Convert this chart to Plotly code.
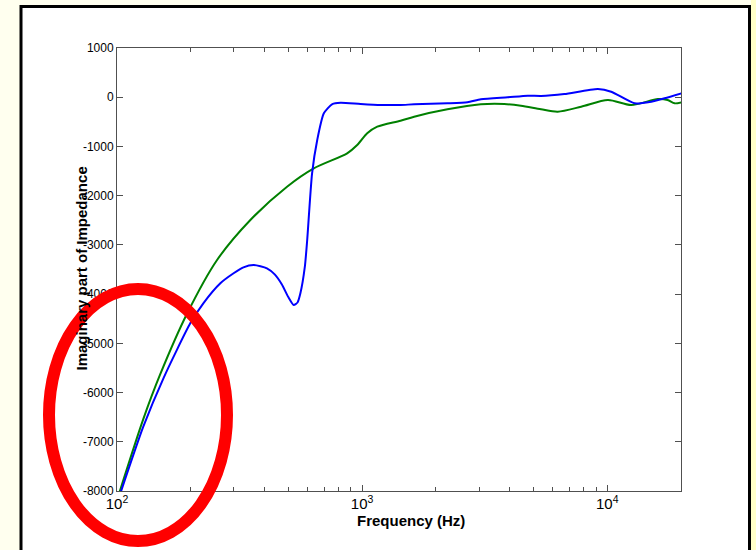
import numpy as np
import plotly.graph_objects as go

# ---- data ----
blue_freq = [103, 128, 155, 199, 225, 264, 299, 328, 361, 409, 440, 470, 500, 526, 545, 560, 584,
             597, 625, 656, 698, 756, 817, 986, 1193, 1435, 1630, 2229, 2690, 3052, 3926, 4742,
             5370, 6685, 9160, 10380, 12930, 15130, 17150, 20090]
blue_imag = [-8060, -6694, -5700, -4593, -4187, -3780, -3577, -3456, -3409, -3476, -3600, -3800,
             -4060, -4221, -4170, -3983, -3443, -2900, -1546, -869, -327, -138, -111, -138, -158,
             -158, -144, -124, -103, -42, -2, 31, 25, 65, 167, 112, -124, -90, -22, 80]

green_freq = [102, 128, 150, 193, 256, 350, 494, 635, 869, 955, 1049, 1153, 1435, 1630, 2229,
              3052, 3800, 4447, 5370, 6280, 7830, 10070, 12530, 16100, 17630, 18840, 20090]
green_imag = [-8050, -6540, -5633, -4400, -3307, -2494, -1817, -1445, -1139, -971, -733,
              -599, -477, -395, -246, -144, -138, -172, -246, -294, -192, -56, -158, -36, -56,
              -124, -103]

y_ticks = [-8000, -7000, -6000, -5000, -4000, -3000, -2000, -1000, 0, 1000]
y_ticklabels = ["-8000", "-7000", "-6000", "-5000", "-4000", "-3000", "-2000", "-1000", "0", "1000"]

x_title = "Frequency (Hz)"
y_title = "Imaginary part of Impedance"

# ---- layout geometry ----
W, H = 756, 550
L, R, T, B = 117, 75, 48, 59
PW, PH = W - L - R, H - T - B


def px(x):
    return (x - L) / PW


def py(y):
    return (H - B - y) / PH


FONT = "Liberation Sans, Arial, Helvetica, sans-serif"
AX = "#505050"

fig = go.Figure()
fig.add_trace(go.Scatter(x=green_freq, y=green_imag, mode="lines",
                         line=dict(color="#008000", width=2, shape="spline", smoothing=0.8),
                         showlegend=False, hoverinfo="skip"))
fig.add_trace(go.Scatter(x=blue_freq, y=blue_imag, mode="lines",
                         line=dict(color="#0000FF", width=2, shape="spline", smoothing=0.6),
                         showlegend=False, hoverinfo="skip"))

fig.update_layout(
    width=W, height=H,
    margin=dict(l=L, r=R, t=T, b=B, pad=0),
    paper_bgcolor="#FFFFEF",
    plot_bgcolor="white",
    font=dict(family=FONT, size=12, color="black"),
    showlegend=False,
    xaxis=dict(type="log", range=[2, np.log10(20000)], dtick=1, exponentformat="power",
               showgrid=False, zeroline=False, showline=True, linecolor=AX, linewidth=1,
               mirror="ticks", ticks="inside", ticklen=6, tickcolor=AX,
               minor=dict(ticks="inside", ticklen=4, tickcolor=AX, showgrid=False, dtick="D1"),
               tickfont=dict(family=FONT, size=12, color="black")),
    yaxis=dict(range=[-8000, 1000], tickvals=y_ticks, ticktext=y_ticklabels,
               showgrid=False, zeroline=False, showline=True, linecolor=AX, linewidth=1,
               mirror="ticks", ticks="inside", ticklen=6, tickcolor=AX,
               tickfont=dict(family=FONT, size=12, color="black")),
    shapes=[
        dict(type="rect", xref="paper", yref="paper", x0=px(21), x1=px(749.5), y0=py(570), y1=py(6.5),
             line=dict(color="black", width=3), fillcolor="white", layer="below"),
        dict(type="rect", xref="paper", yref="paper", x0=px(751), x1=px(760), y0=py(560), y1=py(-5),
             line=dict(width=0), fillcolor="#FFFFC8", layer="below"),
        dict(type="circle", xref="paper", yref="paper", x0=px(49), x1=px(227), y0=py(541), y1=py(289),
             line=dict(color="#FF0000", width=12), layer="above"),
    ],
    annotations=[
        dict(text=x_title, xref="paper", yref="paper", x=px(411), y=py(520), showarrow=False,
             xanchor="center", yanchor="middle", font=dict(family=FONT, size=15, color="black", weight="bold")),
        dict(text=y_title, xref="paper", yref="paper", x=px(81), y=py(268.5), showarrow=False,
             textangle=-90, xanchor="center", yanchor="middle",
             font=dict(family=FONT, size=15, color="black", weight="bold")),
    ],
)

post = """
document.body.style.margin = '0';
document.body.style.padding = '0';
document.documentElement.style.background = '#FFFFEF';
var gd = document.getElementById('{plot_id}');
var main = gd.querySelector('svg.main-svg');
var above = main.querySelector('.layer-above');
if (above) {
  gd.querySelectorAll('.infolayer .annotation').forEach(function(a){ main.insertBefore(a, above); });
}
"""

fig.write_html("out.html", config=dict(displayModeBar=False, staticPlot=True), post_script=post)
